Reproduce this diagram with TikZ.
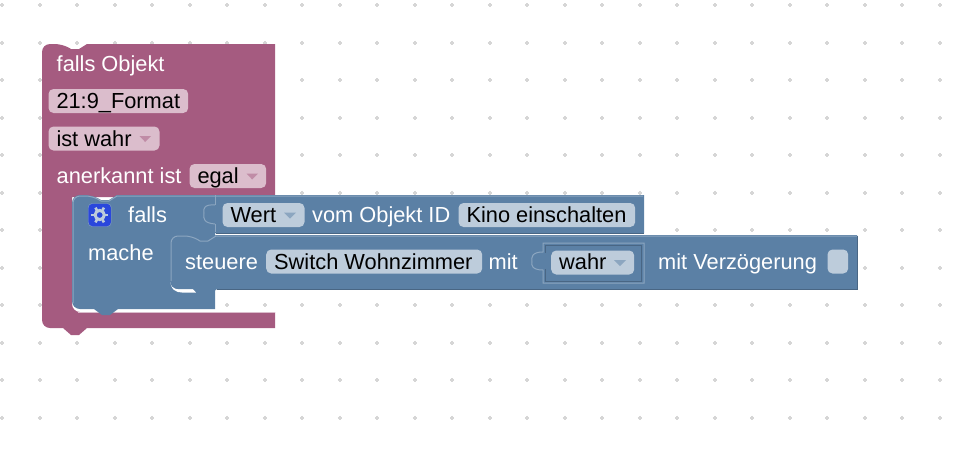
\documentclass[tikz,border=0pt]{standalone}
\usepackage{fontspec}
\setmainfont{Liberation Sans}
\usepackage{tikz}
\usetikzlibrary{positioning}
\definecolor{logicPurple}{HTML}{A55B80}
\definecolor{logicField}{HTML}{DBBDCC}
\definecolor{logicArrow}{HTML}{C08CA6}
\definecolor{ioBlue}{HTML}{5B80A5}
\definecolor{ioField}{HTML}{BDCCDB}
\definecolor{ioArrow}{HTML}{8CA6C0}
\definecolor{ioLight}{HTML}{8CA6C0}
\definecolor{ioDark}{HTML}{496684}
\definecolor{gridDot}{HTML}{D6D6D6}
\definecolor{gearBlue}{HTML}{2A47DC}
\tikzstyle{blocktext}=[text=white, inner sep=0pt, anchor=base west, font=\fontsize{21.8}{24}\selectfont]
\tikzstyle{fieldtext}=[blocktext, text=black]
\tikzstyle{field}=[rounded corners=5pt, minimum height=24pt, inner sep=0pt, anchor=west]
\tikzstyle{purplefield}=[field, fill=logicField]
\tikzstyle{bluefield}=[field, fill=ioField]

\begin{document}
\begin{tikzpicture}[x=1pt,y=-1pt]
	\useasboundingbox (0,0) rectangle (956,448);
	% grid of the workspace
	\foreach \i in {0,...,25}
		\foreach \j in {0,...,11}
			\draw[gridDot, line width=1.6pt] ({0.2+37.5*\i},{5.2+37.5*\j}) -- ++(4,0) ({2.2+37.5*\i},{3.2+37.5*\j}) -- ++(0,4);
	% outer block
	\path[fill=logicPurple] [rounded corners=8pt] (42,200) -- (42,44) -- (63,44) [sharp corners] -- (71,49) -- (79,49) -- (87,44) -- (275,44) -- (275,197) -- (72,197)
		[rounded corners=8pt] -- (72,312) -- (100,312) [sharp corners] -- (275,312) -- (275,328) -- (87,328) -- (79,335) -- (71,335) -- (63,328)
		[rounded corners=8pt] -- (42,328) -- (42,200) -- cycle;
	% lip under the inner block
	\draw[logicField, line width=1pt] (78,312.5) -- (275,312.5);
	% falls block
	\path[fill=ioBlue] [rounded corners=8pt] (72,250) -- (72,195) -- (93,195) [sharp corners] -- (101,200) -- (109,200) -- (117,195) -- (644,195) -- (644,233) -- (215,233) -- (215,309) -- (118,309)
		-- (110,315) -- (102,315) -- (94,309) [rounded corners=8pt] -- (72,309) -- (72,250) -- cycle;
	\draw[ioLight, line width=1pt] [rounded corners=7pt] (73,303) -- (73,196) -- (93,196) [sharp corners] -- (101,201) -- (109,201) -- (117,196) -- (643,196);
	\draw[ioDark, line width=1pt] (644,233) -- (215.5,233);
	\draw[ioLight, line width=1pt] (215,195) -- (215,205);
	\draw[ioLight, line width=1pt] (215,224) -- (215,232);
	\draw[ioLight, line width=1pt] (215,205) .. controls (204,204) and (203,209) .. (204,213) .. controls (203,219) and (204,223) .. (215,224);
	% white corner under the steuere block
	\fill[white] (170,278) .. controls (170,290) and (176,292.5) .. (182,292.5) -- (196,292.5) -- (193,289) -- (178,289) .. controls (174,289) and (171,286) .. cycle;
	% steuere block
	\path[fill=ioBlue] [rounded corners=8pt] (170,260) -- (170,235) -- (192,235) [sharp corners] -- (200,240) -- (208,240) -- (216,235) -- (857,235) -- (857,289) -- (217,289)
		-- (209,295) -- (201,295) -- (193,289) [rounded corners=8pt] -- (170,289) -- (170,260) -- cycle;
	\draw[ioLight, line width=1pt] [rounded corners=7pt] (171,281) -- (171,236) -- (192,236) [sharp corners] -- (200,241) -- (208,241) -- (216,236) -- (857,236);
	\draw[ioDark, line width=1pt] (217,289.5) -- (857,289.5) -- (857,236);
	% socket of the value block
	\draw[ioLight, line width=1pt] (543,243) -- (644,243) -- (644,283) -- (543,283) -- (543,270) .. controls (532,270) and (531,265) .. (532,262) .. controls (531,257) and (532,252) .. (543,252) -- cycle;
	\draw[ioDark, line width=1pt] (545,245) -- (641,245) -- (641,281) -- (545,281) -- cycle;
	\fill[ioBlue] (541,253) rectangle (550,269);
	% labels of the outer block
	\node[blocktext] (fallsObjekt) at (56.5,71.5) {falls Objekt};
	\node[purplefield, minimum width=139.7pt] (format) at (48.3,101) {};
	\node[fieldtext] (formatText) at (56.3,108.5) {21:9\_Format};
	\node[purplefield, minimum width=111pt] (istWahr) at (48.3,138.5) {};
	\node[fieldtext] (istWahrText) at (56.3,146) {ist wahr};
	\node[blocktext] (anerkannt) at (56.5,183.5) {anerkannt ist};
	\node[purplefield, minimum width=76.7pt] (egal) at (189.3,176) {};
	\node[fieldtext] (egalText) at (197.3,183.5) {egal};
	\fill[logicArrow] (139.5,136) -- (151,136) -- (145.2,142) -- cycle;
	\fill[logicArrow] (246.5,173.5) -- (258,173.5) -- (252.2,179.5) -- cycle;
	% labels of the falls block
	\node[fill=gearBlue, draw=ioLight, rounded corners=4pt, minimum size=23pt, inner sep=0pt] (gear) at (99.7,215) {};
	\node[blocktext] (falls) at (128,222.5) {falls};
	\node[blocktext] (mache) at (88,260) {mache};
	\node[bluefield, minimum width=82pt] (wert) at (222.3,215) {};
	\node[fieldtext] (wertText) at (230.3,222.5) {Wert};
	\fill[ioArrow] (284,212.5) -- (296,212.5) -- (290,218.5) -- cycle;
	\node[blocktext] (vomObjekt) at (312,222.5) {vom Objekt ID};
	\node[bluefield, minimum width=176.7pt] (kino) at (458.3,215) {};
	\node[fieldtext] (kinoText) at (466.3,222.5) {Kino einschalten};
	% labels of the steuere block
	\node[blocktext] (steuere) at (185,269.5) {steuere};
	\node[bluefield, minimum width=216pt] (switch) at (266,261.5) {};
	\node[fieldtext] (switchText) at (274,269.5) {Switch Wohnzimmer};
	\node[blocktext] (mit) at (488.5,269.5) {mit};
	\node[bluefield, minimum width=83pt] (wahr) at (551,262.5) {};
	\node[fieldtext] (wahrText) at (559,269.5) {wahr};
	\fill[ioArrow] (614,260) -- (626,260) -- (620,266) -- cycle;
	\node[blocktext] (verzoegerung) at (658,269.5) {mit Verzögerung};
	\node[bluefield, minimum width=20.7pt] (delay) at (827.3,261.5) {};
	% gear icon
	\draw[ioField, line width=3pt] (gear.center) circle (4.6pt);
	\foreach \a in {0,60,...,300}
		\draw[ioField, line width=2.6pt] (gear.center) ++(\a:5.5pt) -- ++(\a:3pt);
\end{tikzpicture}
\end{document}
